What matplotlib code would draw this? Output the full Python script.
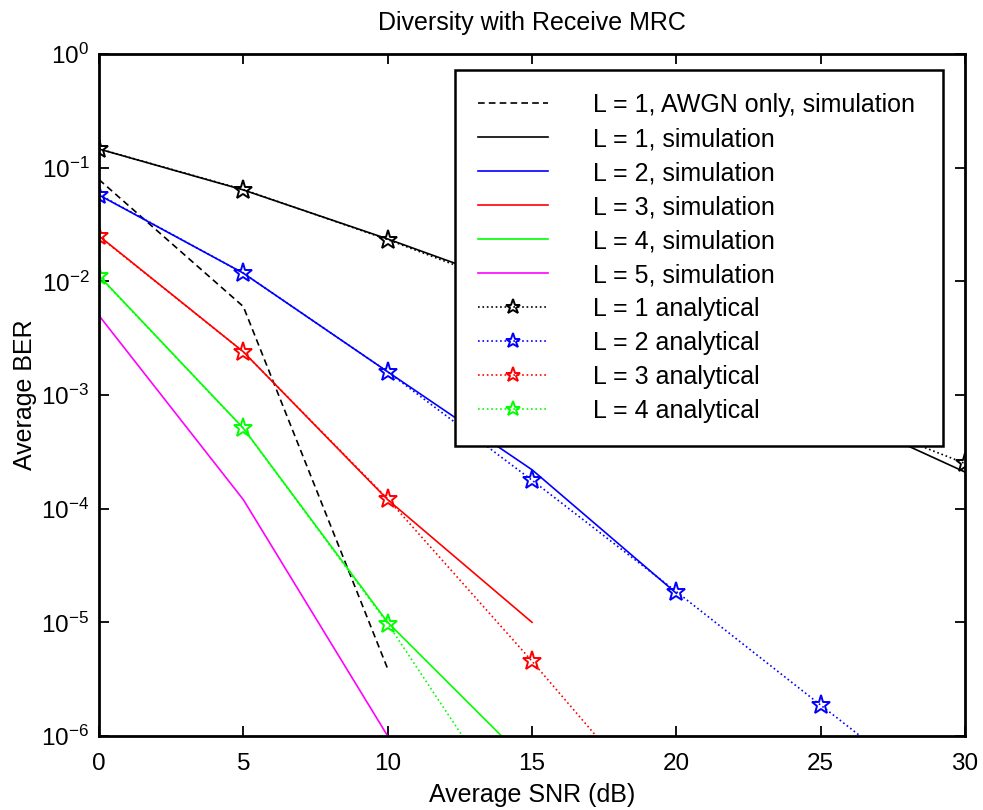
import numpy as np
import matplotlib
matplotlib.use('Agg')
import matplotlib.pyplot as plt

plt.rcParams['font.family'] = 'Liberation Sans'
plt.rcParams['mathtext.fontset'] = 'custom'
plt.rcParams['mathtext.rm'] = 'Liberation Sans'
plt.rcParams['mathtext.it'] = 'Liberation Sans'
plt.rcParams['mathtext.default'] = 'regular'

#
# BER values
#
snr_awgn = [0, 5, 10]
ber_awgn = [0.0786, 0.0060, 3.9e-6]

snr_sim1 = [0, 5, 10, 15, 20, 25, 30]
ber_sim1 = [0.146, 0.0637, 0.0236, 0.0082, 0.0026, 0.00080, 0.00021]
snr_sim2 = [0, 5, 10, 15, 20]
ber_sim2 = [0.0575, 0.0118, 0.0016, 2.2e-4, 1.8e-5]
snr_sim3 = [0, 5, 10, 15]
ber_sim3 = [0.0251, 0.0024, 1.2e-4, 1.0e-5]
snr_sim4 = [0, 5, 10, 15]
ber_sim4 = [0.0112, 5.1e-4, 1.0e-5, 5.4e-7]
snr_sim5 = [0, 5, 10]
ber_sim5 = [0.0050, 1.2e-4, 1.0e-6]

snr_th = [0, 5, 10, 15, 20, 25, 30]
ber_th1 = [0.1464, 0.0642, 0.0233, 0.00772, 0.00249, 7.9e-4, 2.5e-4]
ber_th2 = [0.0580, 0.0118, 0.0016, 1.78e-4, 1.86e-5, 1.87e-6, 1.9e-7]
ber_th3 = [0.0249, 0.0024, 1.22e-4, 4.55e-6, 1.5e-7, 4.8e-9, 1.5e-10]
ber_th4 = [0.0111, 5.08e-4, 9.75e-6, 1.2e-7, 1.3e-9, 1.4e-11, 1.5e-13]

GREEN = '#00ff00'
MAGENTA = '#ff00ff'

fig = plt.figure(figsize=(9.83, 8.10), dpi=100)
ax = fig.add_axes([0.1007, 0.0914, 0.8810, 0.8419])

lw = 1.2
ax.semilogy(snr_awgn, ber_awgn, 'k', ls=(0, (4, 2.5)), lw=lw,
            label='L = 1, AWGN only, simulation')
ax.semilogy(snr_sim1, ber_sim1, 'k-', lw=lw, label='L = 1, simulation')
ax.semilogy(snr_sim2, ber_sim2, 'b-', lw=lw, label='L = 2, simulation')
ax.semilogy(snr_sim3, ber_sim3, 'r-', lw=lw, label='L = 3, simulation')
ax.semilogy(snr_sim4, ber_sim4, '-', color=GREEN, lw=lw,
            label='L = 4, simulation')
ax.semilogy(snr_sim5, ber_sim5, '-', color=MAGENTA, lw=lw,
            label='L = 5, simulation')

star = dict(marker='*', ms=14, mfc='none', mew=1.4, ls=':', lw=lw)
ax.semilogy(snr_th, ber_th1, color='k', label='L = 1 analytical', **star)
ax.semilogy(snr_th, ber_th2, color='b', label='L = 2 analytical', **star)
ax.semilogy(snr_th, ber_th3, color='r', label='L = 3 analytical', **star)
ax.semilogy(snr_th, ber_th4, color=GREEN, label='L = 4 analytical', **star)

ax.set_xlim(0, 30)
ax.set_ylim(1e-6, 1)
ax.set_xticks([0, 5, 10, 15, 20, 25, 30])
ax.set_yticks([10.0 ** k for k in range(-6, 1)])
ax.set_yticklabels(['$10^{%d}$' % k for k in range(-6, 1)])
ax.yaxis.set_minor_locator(matplotlib.ticker.NullLocator())
ax.tick_params(which='major', direction='in', length=7, width=1.3,
               top=True, right=True, labelsize=17.5)
ax.tick_params(axis='x', pad=12)
ax.tick_params(axis='y', pad=7)
for sp in ax.spines.values():
    sp.set_linewidth(2.0)

ax.set_xlabel('Average SNR (dB)', fontsize=18, labelpad=6)
ax.set_ylabel('Average BER', fontsize=18, labelpad=3)
ax.set_title('Diversity with Receive MRC', fontsize=18, pad=17)

leg = ax.legend(loc='upper left', bbox_to_anchor=(0.411, 0.0, 0.5635, 0.9765),
                mode='expand', borderaxespad=0,
                fontsize=18, fancybox=False, framealpha=1,
                edgecolor='k', handlelength=2.8, handletextpad=1.8,
                labelspacing=0.40, borderpad=0.92, markerscale=0.8)
leg.get_frame().set_linewidth(1.8)

fig.savefig('out.png', dpi=100)
